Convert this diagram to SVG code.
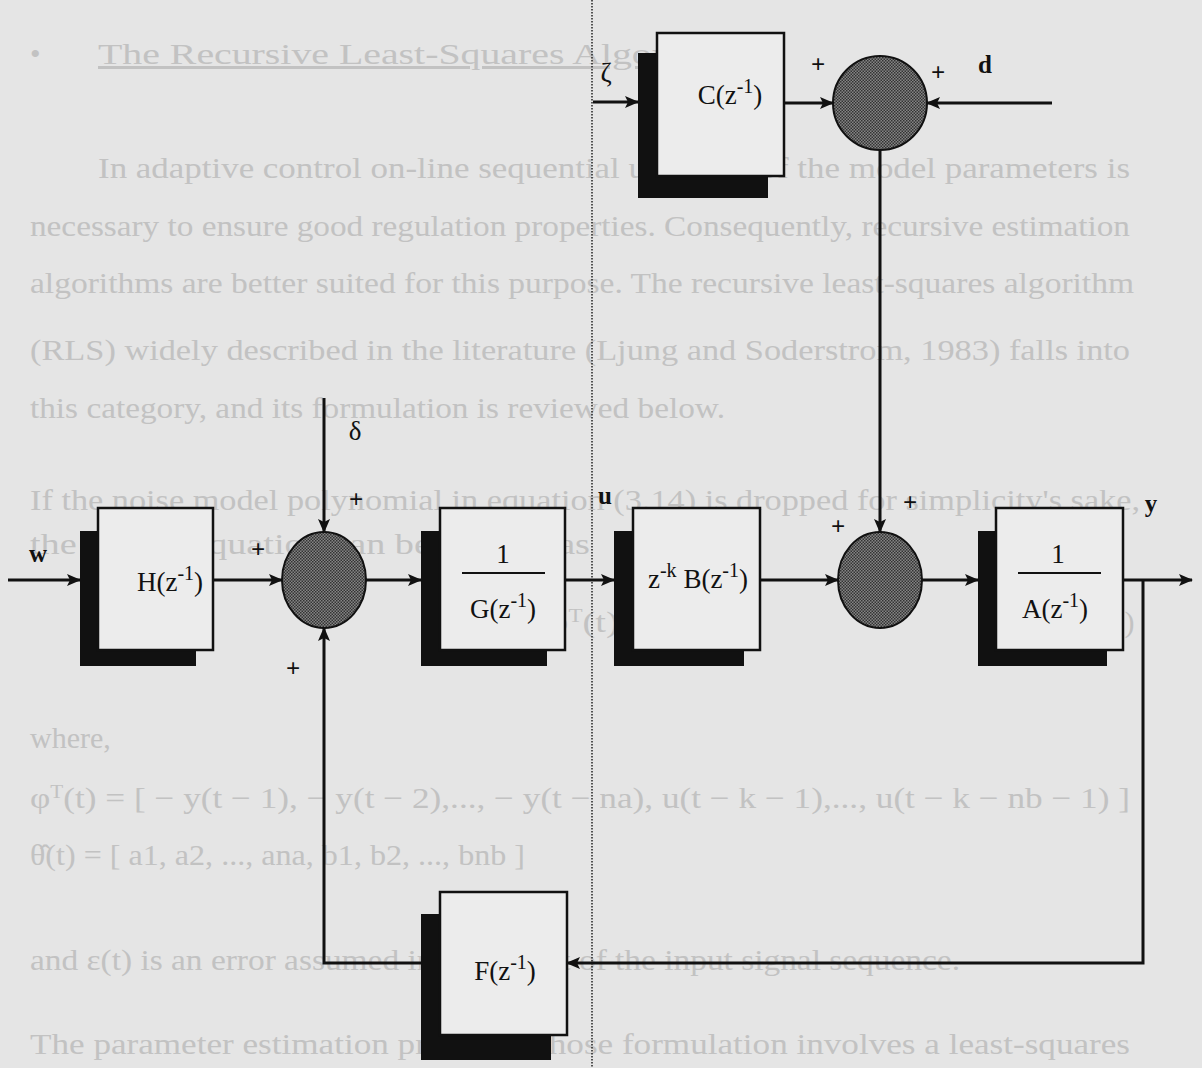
<svg xmlns="http://www.w3.org/2000/svg" width="1202" height="1068" viewBox="0 0 1202 1068">
<style>
.bg{font-family:"Liberation Serif",serif;font-size:30px;fill:#c2c2c2}
.lbl{font-family:"Liberation Serif",serif;font-size:27px;fill:#111}
.bl{font-family:"Liberation Serif",serif;font-size:25px;font-weight:bold;fill:#111}
.front{fill:#ececec;stroke:#111;stroke-width:2.5}
.shadow{fill:#111}
.conn{fill:none;stroke:#111;stroke-width:3}
.frac{stroke:#111;stroke-width:2}
.sum{fill:url(#stip);stroke:#111;stroke-width:2}
</style>
<defs>
<pattern id="stip" width="3" height="3" patternUnits="userSpaceOnUse">
<rect width="3" height="3" fill="#858585"/>
<rect width="1.5" height="1.5" fill="#333"/>
<rect x="1.5" y="1.5" width="1.5" height="1.5" fill="#333"/>
</pattern>
<marker id="ah" markerUnits="userSpaceOnUse" markerWidth="14" markerHeight="12" refX="13" refY="6" orient="auto">
<path d="M0,0 L14,6 L0,12 L3,6 Z" fill="#111"/>
</marker>
</defs>
<rect width="1202" height="1068" fill="#e5e5e5"/>

<g id="background-text">
<text class="bg" x="30" y="64">•</text>
<text class="bg" x="98" y="64" text-decoration="underline" textLength="640" lengthAdjust="spacingAndGlyphs">The Recursive Least-Squares Algorithm</text>
<text class="bg" x="98" y="178" textLength="1032" lengthAdjust="spacingAndGlyphs">In adaptive control on-line  sequential  updating of the model parameters is</text>
<text class="bg" x="30" y="236" textLength="1100" lengthAdjust="spacingAndGlyphs">necessary to ensure good regulation properties. Consequently, recursive estimation</text>
<text class="bg" x="30" y="293" textLength="1104" lengthAdjust="spacingAndGlyphs">algorithms are better suited for this purpose. The recursive least-squares algorithm</text>
<text class="bg" x="30" y="360" textLength="1100" lengthAdjust="spacingAndGlyphs">(RLS) widely described in the literature (Ljung and Soderstrom, 1983) falls into</text>
<text class="bg" x="30" y="418" textLength="695" lengthAdjust="spacingAndGlyphs">this category, and its formulation is reviewed below.</text>
<text class="bg" x="30" y="510" textLength="1110" lengthAdjust="spacingAndGlyphs">If the noise model polynomial in equation (3.14) is dropped for simplicity's sake,</text>
<text class="bg" x="30" y="554" textLength="560" lengthAdjust="spacingAndGlyphs">the model equation can be written as</text>
<text class="bg" x="450" y="632" textLength="290" lengthAdjust="spacingAndGlyphs">y(t) = φ<tspan dy="-10" font-size="18">T</tspan><tspan dy="10">(t) θ̂ + ε(t)</tspan></text>
<text class="bg" x="1062" y="632">(3.15)</text>
<text class="bg" x="30" y="748">where,</text>
<text class="bg" x="30" y="808" textLength="1100" lengthAdjust="spacingAndGlyphs">φ<tspan dy="-10" font-size="18">T</tspan><tspan dy="10">(t) = [ − y(t − 1), − y(t − 2),..., − y(t − na), u(t − k − 1),..., u(t − k − nb − 1) ]</tspan></text>
<text class="bg" x="30" y="865" textLength="495" lengthAdjust="spacingAndGlyphs">θ̂(t) = [ a1, a2, ..., ana, b1, b2, ..., bnb ]</text>
<text class="bg" x="30" y="970" textLength="930" lengthAdjust="spacingAndGlyphs">and ε(t) is an error assumed independent of the input signal sequence.</text>
<text class="bg" x="30" y="1054" textLength="1100" lengthAdjust="spacingAndGlyphs">The parameter estimation problem whose formulation involves a least-squares</text>
</g>

<line x1="592" y1="0" x2="592" y2="1068" stroke="#222" stroke-width="1.5" stroke-dasharray="1.5,1.5"/>

<g id="connectors">
<path class="conn" d="M593,102 H638" marker-end="url(#ah)"/>
<path class="conn" d="M784,103 H833" marker-end="url(#ah)"/>
<path class="conn" d="M1052,103 H927" marker-end="url(#ah)"/>
<path class="conn" d="M880,150 V532" marker-end="url(#ah)"/>
<path class="conn" d="M8,580 H80" marker-end="url(#ah)"/>
<path class="conn" d="M213,580 H282" marker-end="url(#ah)"/>
<path class="conn" d="M324,398 V532" marker-end="url(#ah)"/>
<path class="conn" d="M366,580 H421" marker-end="url(#ah)"/>
<path class="conn" d="M565,580 H614" marker-end="url(#ah)"/>
<path class="conn" d="M760,580 H838" marker-end="url(#ah)"/>
<path class="conn" d="M922,580 H978" marker-end="url(#ah)"/>
<path class="conn" d="M1123,580 H1192" marker-end="url(#ah)"/>
<path class="conn" d="M1143,580 V963 H567" marker-end="url(#ah)"/>
<path class="conn" d="M421,963 H324 V628" marker-end="url(#ah)"/>
</g>

<g id="C">
<rect class="shadow" x="638" y="53" width="130" height="145"/>
<rect class="front" x="657" y="33" width="127" height="143"/>
<text class="lbl" x="730" y="104" text-anchor="middle">C(z<tspan dy="-11" font-size="20">-1</tspan><tspan dy="11">)</tspan></text>
</g>
<g id="sum-top">
<circle class="sum" cx="880" cy="103" r="47"/>
</g>
<g id="H">
<rect class="shadow" x="80" y="531" width="116" height="135"/>
<rect class="front" x="98" y="508" width="115" height="142"/>
<text class="lbl" x="170" y="591" text-anchor="middle">H(z<tspan dy="-11" font-size="20">-1</tspan><tspan dy="11">)</tspan></text>
</g>
<g id="sum-1">
<ellipse class="sum" cx="324" cy="580" rx="42" ry="48"/>
</g>
<g id="G">
<rect class="shadow" x="421" y="531" width="126" height="135"/>
<rect class="front" x="440" y="508" width="125" height="142"/>
<text class="lbl" x="503" y="563" text-anchor="middle">1</text>
<line class="frac" x1="462" y1="573" x2="545" y2="573"/>
<text class="lbl" x="503" y="618" text-anchor="middle">G(z<tspan dy="-11" font-size="20">-1</tspan><tspan dy="11">)</tspan></text>
</g>
<g id="B">
<rect class="shadow" x="614" y="531" width="130" height="135"/>
<rect class="front" x="633" y="508" width="127" height="142"/>
<text class="lbl" x="698" y="588" text-anchor="middle">z<tspan dy="-11" font-size="20">-k</tspan><tspan dy="11"> B(z</tspan><tspan dy="-11" font-size="20">-1</tspan><tspan dy="11">)</tspan></text>
</g>
<g id="sum-2">
<ellipse class="sum" cx="880" cy="580" rx="42" ry="48"/>
</g>
<g id="A">
<rect class="shadow" x="978" y="531" width="129" height="135"/>
<rect class="front" x="996" y="508" width="127" height="142"/>
<text class="lbl" x="1058" y="563" text-anchor="middle">1</text>
<line class="frac" x1="1018" y1="573" x2="1101" y2="573"/>
<text class="lbl" x="1055" y="618" text-anchor="middle">A(z<tspan dy="-11" font-size="20">-1</tspan><tspan dy="11">)</tspan></text>
</g>
<g id="F">
<rect class="shadow" x="421" y="914" width="130" height="146"/>
<rect class="front" x="440" y="892" width="127" height="143"/>
<text class="lbl" x="505" y="980" text-anchor="middle">F(z<tspan dy="-11" font-size="20">-1</tspan><tspan dy="11">)</tspan></text>
</g>

<g id="labels">
<text class="bl" x="38" y="562" text-anchor="middle">w</text>
<text class="lbl" x="355" y="440" text-anchor="middle">δ</text>
<text class="bl" x="605" y="504" text-anchor="middle">u</text>
<text class="bl" x="1151" y="512" text-anchor="middle">y</text>
<text class="lbl" x="606" y="82" text-anchor="middle">ζ</text>
<text class="bl" x="985" y="73" text-anchor="middle">d</text>
<text class="bl" x="258" y="558" text-anchor="middle">+</text>
<text class="bl" x="356" y="508" text-anchor="middle">+</text>
<text class="bl" x="293" y="677" text-anchor="middle">+</text>
<text class="bl" x="818" y="73" text-anchor="middle">+</text>
<text class="bl" x="938" y="81" text-anchor="middle">+</text>
<text class="bl" x="838" y="535" text-anchor="middle">+</text>
<text class="bl" x="910" y="511" text-anchor="middle">+</text>
</g>
</svg>
